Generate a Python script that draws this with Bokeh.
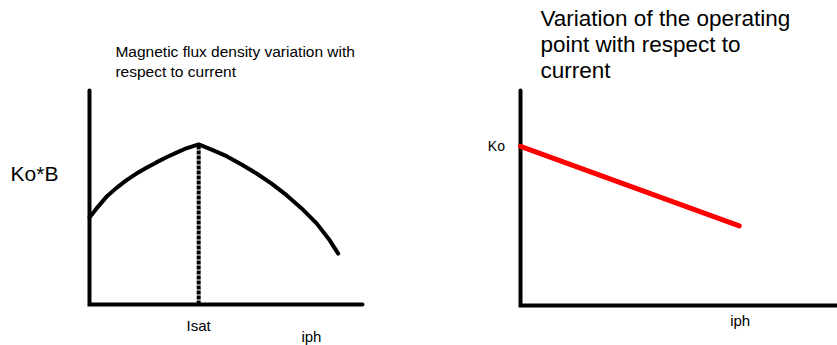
from bokeh.plotting import figure
from bokeh.layouts import row
from bokeh.models import Range1d, Label
from bokeh.embed import file_html
from bokeh.resources import INLINE

FONT = "Liberation Sans"

# --- Left panel: Ko*B against phase current ---
current = [0.0, 0.26, 0.62, 0.99, 1.36, 1.72, 2.09, 2.45, 2.82, 3.19, 3.55, 4.0,
           4.47, 5.02, 5.57, 6.12, 6.67, 7.22, 7.77, 8.32, 8.80, 9.11]
ko_b = [4.07, 4.49, 5.03, 5.45, 5.81, 6.12, 6.39, 6.64, 6.88, 7.10, 7.30, 7.48,
        7.24, 6.93, 6.54, 6.12, 5.65, 5.11, 4.49, 3.79, 3.00, 2.38]
i_sat = 4.0
b_peak = 7.48

# --- Right panel: operating point against phase current ---
iph_line = [0.0, 6.9]
op_line = [7.4, 3.7]
ko_value = 7.4

# Axis extents (both panels span 0..10 in each direction)
axis_x = [0, 0, 10]
axis_y = [10, 0, 0]

left_title = ["Magnetic flux density variation with", "respect to current"]
right_title = ["Variation of the operating", "point with respect to", "current"]


def panel(width, x_range, y_range):
    p = figure(width=width, height=345, output_backend="svg", toolbar_location=None,
               x_range=Range1d(*x_range), y_range=Range1d(*y_range),
               x_axis_type=None, y_axis_type=None, min_border=0)
    p.outline_line_color = None
    p.grid.visible = False
    p.background_fill_color = "white"
    p.border_fill_color = "white"
    # L-shaped axis frame
    p.line(axis_x, axis_y, line_width=4, line_color="black",
           line_join="miter", line_cap="round")
    return p


def add_text(p, x, y, text, size, align="left", baseline="alphabetic"):
    p.add_layout(Label(x=x, y=y, text=text, text_font=FONT, text_font_size=size,
                       text_color="black", text_align=align, text_baseline=baseline))


# Left panel
p1 = panel(420, (-3.26, 12.125), (-1.916, 14.206))
p1.line(current, ko_b, line_width=4, line_color="black", line_join="round", line_cap="round")
p1.segment(x0=[i_sat], y0=[0], x1=[i_sat], y1=[b_peak], line_width=4,
           line_color="black", line_dash="4 1")
add_text(p1, 0.95, 11.80, left_title[0], "15.5px")
add_text(p1, 0.95, 10.88, left_title[1], "15.5px")
add_text(p1, -2.89, 6.12, "Ko*B", "21px")
add_text(p1, i_sat, -0.98, "Isat", "15px", align="center")
add_text(p1, 8.13, -1.50, "iph", "15px", align="center")

# Right panel
p2 = panel(417, (-3.155, 10.0), (-1.86, 14.186))
p2.line(iph_line, op_line, line_width=5, line_color="red", line_cap="round")
for txt, yv in zip(right_title, [13.36, 12.15, 10.95]):
    add_text(p2, 0.63, yv, txt, "22.5px")
add_text(p2, -0.49, ko_value, "Ko", "14px", align="right", baseline="middle")
add_text(p2, 6.93, -0.70, "iph", "15px", align="center")

layout = row(p1, p2)
open("out.html", "w").write(file_html(layout, INLINE))
